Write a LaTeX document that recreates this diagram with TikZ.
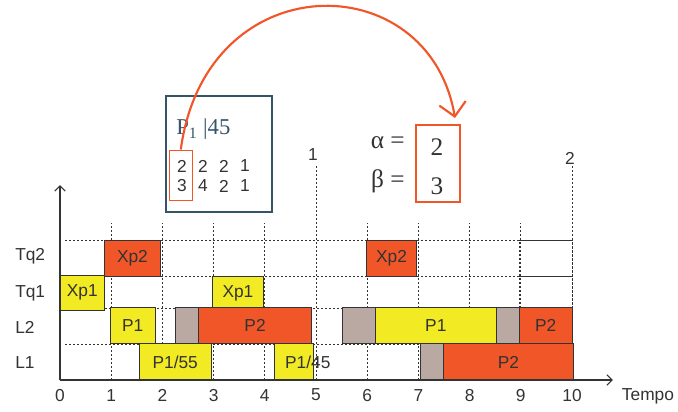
\documentclass[tikz,border=0pt]{standalone}
\usepackage{fontspec}
\setmainfont{Liberation Sans}
\newfontfamily\timesf{Liberation Serif}
\usetikzlibrary{arrows.meta}
\definecolor{naranja}{RGB}{240,86,40}
\definecolor{amarelo}{RGB}{242,234,34}
\definecolor{cinza}{RGB}{186,168,162}
\definecolor{ardosia}{RGB}{52,84,104}
\definecolor{texto}{RGB}{51,51,51}
\tikzset{
  lbl/.style={font=\fontsize{13}{15}\selectfont, text=texto, inner sep=0pt},
  blk/.style={draw=texto, line width=0.7pt},
  grade/.style={texto, line width=0.5pt, dash pattern=on 1.5pt off 1.5pt},
  eixo/.style={texto, line width=0.8pt, -{Straight Barb[length=4pt,width=8pt]}},
}
\begin{document}
\begin{tikzpicture}[x=38.4pt, y=26.25pt]
    \useasboundingbox (-1.1719,-0.8857) rectangle (12.0703,10.8571);

    % grelha
    \foreach \t in {1,2,3,4,6,7,8,9} \draw[grade] (\t,0) -- (\t,4.5);
    \draw[grade] (5,0) -- (5,6.1);
    \draw[grade] (10,0) -- (10,6.1);
    \foreach \y in {1.03,2.06,2.97,4} \draw[grade] (0.1,\y) -- (10,\y);
    \draw[grade] (8.97,2.97) rectangle (10,4);
    \draw[grade] (8.97,2.06) rectangle (10,2.97);

    % Tq2 e Tq1
    \draw[blk, fill=naranja] (0.87,2.97) rectangle (1.96,4) node[lbl, midway] (xp2a) {Xp2};
    \draw[blk, fill=naranja] (5.98,2.97) rectangle (6.97,4) node[lbl, midway] (xp2b) {Xp2};
    \draw[blk, fill=amarelo] (0,2) rectangle (0.87,2.99) node[lbl, midway] (xp1a) {Xp1};
    \draw[blk, fill=amarelo] (2.98,2.01) rectangle (3.97,2.97) node[lbl, midway] (xp1b) {Xp1};

    % L2
    \draw[blk, fill=amarelo] (0.98,1.03) rectangle (1.86,2.06) node[lbl, midway] (l2a) {P1};
    \draw[blk, fill=cinza] (2.25,1.03) rectangle (2.7,2.06);
    \draw[blk, fill=naranja] (2.7,1.03) rectangle (4.92,2.06) node[lbl, midway] (l2b) {P2};
    \draw[blk, fill=cinza] (5.51,1.03) rectangle (6.16,2.06);
    \draw[blk, fill=amarelo] (6.16,1.03) rectangle (8.52,2.06) node[lbl, midway] (l2c) {P1};
    \draw[blk, fill=cinza] (8.52,1.03) rectangle (8.97,2.06);
    \draw[blk, fill=naranja] (8.97,1.03) rectangle (10,2.06) node[lbl, midway] (l2d) {P2};

    % L1
    \draw[blk, fill=amarelo] (1.55,0) rectangle (2.95,1.03) node[lbl, midway] (l1a) {P1/55};
    \draw[blk, fill=amarelo] (4.19,0) rectangle (4.95,1.03);
    \node[lbl] (l1b) at (4.84,0.5) {P1/45};
    \draw[blk, fill=cinza] (7.04,0) rectangle (7.49,1.03);
    \draw[blk, fill=naranja] (7.49,0) rectangle (10.03,1.03) node[lbl, midway] (l1c) {P2};

    % eixos
    \draw[eixo] (0,0) -- (0,5.57);
    \draw[eixo] (0,0) -- (10.8,0);
    \foreach \t in {0,...,10} \node[lbl] (x\t) at (\t,-0.43) {\t};
    \node[lbl, anchor=west] (tempo) at (10.97,-0.477) {Tempo};
    \node[lbl, anchor=west] (tq2) at (-0.879,3.54) {Tq2};
    \node[lbl, anchor=west] (tq1) at (-0.879,2.49) {Tq1};
    \node[lbl, anchor=west] (l2) at (-0.879,1.49) {L2};
    \node[lbl, anchor=west] (l1) at (-0.879,0.49) {L1};
    \node[lbl] (per1) at (4.94,6.43) {1};
    \node[lbl] (per2) at (9.96,6.34) {2};

    % tabela
    \node[draw=ardosia, line width=0.9pt, minimum width=79.5pt, minimum height=87pt] (matriz) at (3.105,6.457) {};
    \node[anchor=base west, text=ardosia, inner sep=0pt, font=\timesf\fontsize{17}{20}\selectfont] (proc) at (2.266,7.0) {P\textsubscript{1} |45};
    \foreach \d [count=\i] in {2,2,2,1} \node[lbl] (a\i) at ({2.383+0.41*(\i-1)},6.114) {\d};
    \foreach \d [count=\i] in {3,4,2,1} \node[lbl] (b\i) at ({2.383+0.41*(\i-1)},5.543) {\d};
    \node[draw=naranja, line width=0.7pt, minimum width=17.25pt, minimum height=37.5pt, inner sep=0pt] (coluna) at (2.359,5.857) {};

    % alfa e beta
    \node[anchor=east, text=texto, inner sep=0pt, font=\timesf\fontsize{19}{22}\selectfont] (alfa) at (6.738,6.77) {α =};
    \node[anchor=east, text=texto, inner sep=0pt, font=\timesf\fontsize{19}{22}\selectfont] (beta) at (6.738,5.69) {β =};
    \node[draw=naranja, line width=1.5pt, minimum width=33pt, minimum height=57.5pt] (abbox) at (7.383,6.19) {};
    \node[text=texto, inner sep=0pt, font=\timesf\fontsize{19}{22}\selectfont] (va) at (7.363,6.657) {2};
    \node[text=texto, inner sep=0pt, font=\timesf\fontsize{19}{22}\selectfont] (vb) at (7.363,5.543) {3};

    % seta
    \coordinate (tip) at (7.715,7.486);
    \draw[naranja, line width=1.6pt, -{Straight Barb[length=10pt,width=20pt]}] (coluna.north) .. controls (2.85,11.886) and (7.2,11.886) .. (tip);
\end{tikzpicture}
\end{document}
